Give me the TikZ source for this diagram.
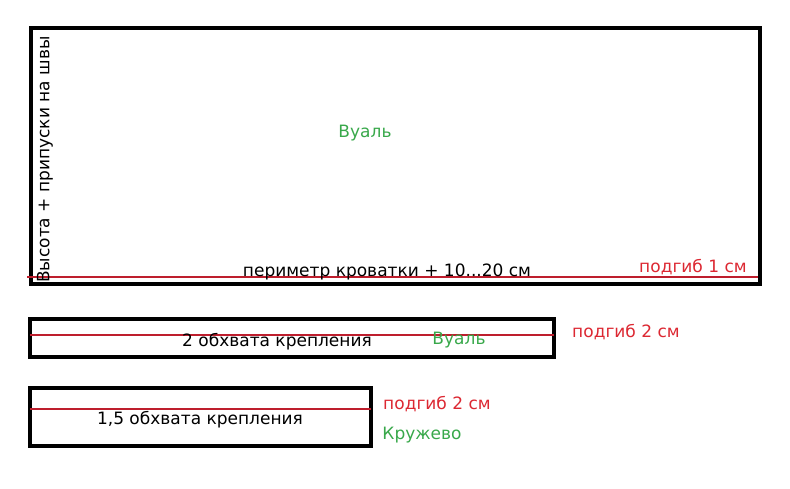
\documentclass[tikz,border=0pt]{standalone}
\usepackage{fontspec}
\setmainfont{DejaVu Sans}
\definecolor{vgreen}{RGB}{56,168,74}
\definecolor{vred}{RGB}{220,40,50}
\definecolor{hemline}{RGB}{190,30,45}
\tikzset{
  panel/.style={draw=black, line width=3.5pt},
  hem/.style={draw=hemline, line width=1.2pt},
  lbl/.style={inner sep=0pt, font=\fontsize{17}{19}\selectfont},
  redlbl/.style={lbl, text=vred},
  greenlbl/.style={lbl, text=vgreen},
}
\begin{document}
\begin{tikzpicture}[x=1pt,y=-1pt]
\useasboundingbox (0,0) rectangle (790,489);
% panel 1
\draw[panel] (31,28) rectangle (760,284);
\coordinate (h1a) at (27,277);
\coordinate (h1b) at (758,277);
\draw[hem] (h1a) -- (h1b);
\node[lbl, rotate=90, anchor=west] (t1v) at (45,283) {Высота + припуски на швы};
\node[greenlbl] (t1g) at (365,133) {Вуаль};
\node[lbl] (t1b) at (387,272) {периметр кроватки + 10...20 см};
\node[redlbl] (t1r) at (693,267) {подгиб 1 см};
% panel 2
\draw[panel] (30,319) rectangle (554,357);
\coordinate (h2a) at (30,335);
\coordinate (h2b) at (554,335);
\draw[hem] (h2a) -- (h2b);
\node[lbl] (t2) at (277,342) {2 обхвата крепления};
\node[greenlbl] (t2g) at (459,340) {Вуаль};
\node[redlbl] (t2r) at (626,332) {подгиб 2 см};
% panel 3
\draw[panel] (30,388) rectangle (371,446);
\coordinate (h3a) at (30,409);
\coordinate (h3b) at (371,409);
\draw[hem] (h3a) -- (h3b);
\node[lbl] (t3) at (200,420) {1,5 обхвата крепления};
\node[redlbl] (t3r) at (437,404) {подгиб 2 см};
\node[greenlbl] (t3g) at (422,435) {Кружево};
\end{tikzpicture}
\end{document}
